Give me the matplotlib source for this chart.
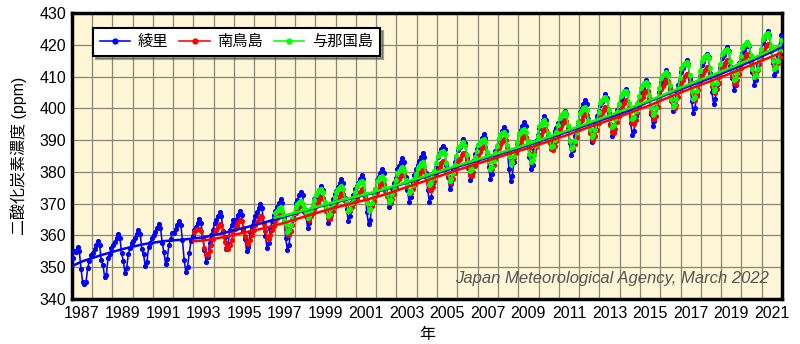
import numpy as np
import matplotlib
matplotlib.use("Agg")
import matplotlib.pyplot as plt

plt.rcParams['font.family'] = ['Liberation Sans', 'Noto Sans CJK JP', 'DejaVu Sans']

# 月平均値 (ppm) 各行 = 1年分 (1月..12月)
ryori_start = 1987
ryori = [
    [353.0, 355.1, 354.7, 356.4, 355.0, 349.5, 345.3, 344.6, 345.5, 349.8, 352.0, 353.9],
    [354.6, 355.7, 357.0, 358.2, 357.0, 352.2, 350.7, 346.9, 347.5, 352.9, 354.2, 355.9],
    [356.9, 358.0, 359.3, 360.5, 359.3, 354.5, 352.0, 348.2, 349.7, 354.2, 356.0, 357.7],
    [358.1, 359.2, 360.5, 361.7, 360.5, 355.7, 354.1, 350.3, 351.8, 356.3, 357.6, 359.3],
    [360.1, 361.2, 362.5, 363.7, 362.5, 357.7, 354.9, 351.1, 352.6, 357.1, 359.0, 360.7],
    [360.9, 362.0, 363.3, 364.5, 363.3, 358.5, 352.3, 348.5, 350.0, 354.5, 358.1, 359.8],
    [361.6, 362.7, 364.0, 365.2, 364.0, 359.2, 355.5, 351.7, 353.2, 357.7, 360.1, 361.8],
    [363.8, 364.9, 366.2, 367.4, 366.2, 361.4, 359.6, 355.8, 357.3, 361.8, 363.2, 364.9],
    [364.1, 365.2, 366.5, 367.7, 366.5, 361.7, 358.8, 355.0, 356.5, 361.0, 363.0, 364.7],
    [366.2, 367.3, 368.6, 369.8, 368.6, 363.8, 359.9, 356.1, 357.6, 362.1, 364.6, 366.3],
    [367.8, 368.9, 370.2, 371.4, 370.2, 365.4, 359.3, 355.5, 357.0, 361.5, 365.1, 366.8],
    [370.2, 371.3, 372.6, 373.8, 372.6, 367.8, 366.2, 362.4, 363.9, 368.4, 369.7, 371.4],
    [372.0, 373.1, 374.4, 375.6, 374.4, 369.6, 367.8, 364.0, 365.5, 370.0, 371.4, 373.1],
    [374.1, 375.2, 376.5, 377.7, 376.5, 371.7, 368.4, 364.6, 366.1, 370.6, 372.8, 374.5],
    [375.5, 376.6, 377.9, 379.1, 377.9, 373.1, 367.3, 363.5, 365.0, 369.5, 372.9, 374.6],
    [377.3, 378.4, 379.7, 380.9, 379.7, 374.9, 372.6, 368.8, 370.3, 374.8, 376.5, 378.2],
    [380.8, 381.9, 383.2, 384.4, 383.2, 378.4, 374.3, 370.5, 372.0, 376.5, 379.1, 380.8],
    [382.2, 383.3, 384.6, 385.8, 384.6, 379.8, 374.3, 370.5, 372.0, 376.5, 379.8, 381.5],
    [384.7, 385.8, 387.1, 388.3, 387.1, 382.3, 378.4, 374.6, 376.1, 380.6, 383.1, 384.8],
    [386.8, 387.9, 389.2, 390.4, 389.2, 384.4, 381.2, 377.4, 378.9, 383.4, 385.5, 387.2],
    [388.4, 389.5, 390.8, 392.0, 390.8, 386.0, 381.6, 377.8, 379.3, 383.8, 386.5, 388.2],
    [390.5, 391.6, 392.9, 394.1, 392.9, 388.1, 381.0, 377.2, 378.7, 383.2, 387.3, 389.0],
    [392.0, 393.1, 394.4, 395.6, 394.4, 389.6, 384.6, 380.8, 382.3, 386.8, 389.8, 391.5],
    [393.9, 395.0, 396.3, 397.5, 396.3, 391.5, 391.0, 387.5, 389.0, 393.0, 393.8, 395.3],
    [395.7, 396.8, 398.1, 399.3, 398.1, 393.3, 389.1, 385.3, 386.8, 391.3, 393.9, 395.6],
    [398.9, 400.0, 401.3, 402.5, 401.3, 396.5, 393.3, 389.5, 391.0, 395.5, 397.6, 399.3],
    [401.0, 402.1, 403.4, 404.6, 403.4, 398.6, 395.2, 391.4, 392.9, 397.4, 399.6, 401.3],
    [402.6, 403.7, 405.0, 406.2, 405.0, 400.2, 395.3, 391.5, 393.0, 397.5, 400.5, 402.2],
    [405.2, 406.3, 407.6, 408.8, 407.6, 402.8, 398.3, 394.5, 396.0, 400.5, 403.3, 405.0],
    [408.4, 409.5, 410.8, 412.0, 410.8, 406.0, 403.1, 399.3, 400.8, 405.3, 407.3, 409.0],
    [411.5, 412.6, 413.9, 415.1, 413.9, 409.1, 402.3, 398.5, 400.0, 404.5, 408.4, 410.1],
    [413.6, 414.7, 416.0, 417.2, 416.0, 411.2, 405.2, 401.4, 402.9, 407.4, 410.9, 412.6],
    [415.8, 416.9, 418.2, 419.4, 418.2, 413.4, 409.7, 405.9, 407.4, 411.9, 414.3, 416.0],
    [417.3, 418.4, 419.7, 420.9, 419.7, 414.9, 411.3, 407.5, 409.0, 413.5, 415.8, 417.5],
    [420.7, 421.8, 423.1, 424.3, 423.1, 418.3, 414.2, 410.4, 411.9, 416.4, 420.0, 423.0],
]

minami_start = 1993
minami = [
    [361.2, 361.6, 361.9, 362.0, 361.5, 359.5, 356.1, 354.1, 353.8, 355.0, 356.9, 358.8],
    [360.7, 361.6, 362.7, 363.5, 363.2, 361.0, 358.0, 356.0, 355.7, 356.9, 358.6, 360.4],
    [362.1, 363.0, 364.1, 364.9, 364.6, 362.4, 359.7, 357.7, 357.4, 358.6, 360.2, 361.7],
    [363.3, 364.2, 365.3, 366.1, 365.8, 363.6, 361.3, 359.3, 359.0, 360.2, 361.6, 363.1],
    [364.5, 365.4, 366.5, 367.3, 367.0, 364.8, 362.5, 360.5, 360.2, 361.4, 363.3, 365.1],
    [367.0, 367.9, 369.0, 369.8, 369.5, 367.3, 366.5, 365.3, 364.8, 366.2, 367.2, 368.4],
    [369.2, 370.1, 371.2, 372.0, 371.7, 369.5, 367.6, 365.6, 365.3, 366.5, 367.8, 369.2],
    [370.5, 371.4, 372.5, 373.3, 373.0, 370.8, 369.9, 367.9, 367.6, 368.8, 369.8, 370.8],
    [371.8, 372.7, 373.8, 374.6, 374.3, 372.1, 370.5, 368.5, 368.2, 369.4, 370.9, 372.3],
    [373.8, 374.7, 375.8, 376.6, 376.3, 374.1, 372.5, 370.5, 370.2, 371.4, 373.2, 375.0],
    [376.8, 377.7, 378.8, 379.6, 379.3, 377.1, 375.8, 373.8, 373.5, 374.7, 375.8, 377.0],
    [378.1, 379.0, 380.1, 380.9, 380.6, 378.4, 376.5, 374.5, 374.2, 375.4, 377.2, 378.9],
    [380.7, 381.6, 382.7, 383.5, 383.2, 381.0, 378.8, 376.8, 376.5, 377.7, 379.6, 381.4],
    [383.3, 384.2, 385.3, 386.1, 385.8, 383.6, 381.1, 379.1, 378.8, 380.0, 381.8, 383.6],
    [385.4, 386.3, 387.4, 388.2, 387.9, 385.7, 383.3, 381.3, 381.0, 382.2, 384.0, 385.7],
    [387.5, 388.4, 389.5, 390.3, 390.0, 387.8, 385.5, 383.5, 383.2, 384.4, 385.8, 387.2],
    [388.6, 389.5, 390.6, 391.4, 391.1, 388.9, 387.5, 385.5, 385.2, 386.4, 387.9, 389.3],
    [390.8, 391.7, 392.8, 393.6, 393.3, 391.1, 389.1, 387.1, 386.8, 388.0, 389.8, 391.6],
    [393.4, 394.3, 395.4, 396.2, 395.9, 393.7, 389.8, 387.8, 387.5, 388.7, 391.0, 393.2],
    [395.5, 396.4, 397.5, 398.3, 398.0, 395.8, 392.3, 390.3, 390.0, 391.2, 393.3, 395.5],
    [397.6, 398.5, 399.6, 400.4, 400.1, 397.9, 394.6, 392.6, 392.3, 393.5, 395.6, 397.6],
    [399.7, 400.6, 401.7, 402.5, 402.2, 400.0, 397.3, 395.3, 395.0, 396.2, 398.4, 400.6],
    [402.8, 403.7, 404.8, 405.6, 405.3, 403.1, 398.8, 396.8, 396.5, 397.7, 400.5, 403.3],
    [406.0, 406.9, 408.0, 408.8, 408.5, 406.3, 402.3, 400.3, 400.0, 401.2, 403.5, 405.8],
    [408.1, 409.0, 410.1, 410.9, 410.6, 408.4, 404.9, 402.9, 402.6, 403.8, 405.9, 408.1],
    [410.2, 411.1, 412.2, 413.0, 412.7, 410.5, 407.1, 405.1, 404.8, 406.0, 408.1, 410.2],
    [412.3, 413.2, 414.3, 415.1, 414.8, 412.6, 410.1, 408.1, 407.8, 409.0, 410.8, 412.6],
    [414.4, 415.3, 416.4, 417.2, 416.9, 414.7, 413.1, 411.1, 410.8, 412.0, 413.9, 415.7],
    [417.6, 418.5, 419.6, 420.4, 420.1, 417.9, 415.3, 413.3, 413.0, 414.2, 416.3, 418.3],
]

yonaguni_start = 1997
yonaguni = [
    [367.2, 367.8, 368.5, 368.8, 367.8, 364.8, 363.5, 361.0, 361.6, 363.4, 365.3, 367.2],
    [369.1, 369.9, 370.6, 370.9, 369.9, 368.6, 367.4, 365.6, 366.2, 368.0, 369.6, 371.2],
    [372.8, 373.6, 374.3, 374.6, 373.6, 370.6, 368.6, 366.1, 366.7, 368.5, 370.3, 372.0],
    [373.8, 374.6, 375.3, 375.6, 374.6, 371.6, 370.2, 367.7, 368.3, 370.1, 371.9, 373.6],
    [375.4, 376.2, 376.9, 377.2, 376.2, 373.2, 370.2, 367.7, 368.3, 370.1, 372.4, 374.7],
    [377.0, 377.8, 378.5, 378.8, 377.8, 374.8, 373.1, 370.6, 371.2, 373.0, 375.2, 377.4],
    [379.6, 380.4, 381.1, 381.4, 380.4, 377.4, 376.0, 373.5, 374.1, 375.9, 377.7, 379.4],
    [381.2, 382.0, 382.7, 383.0, 382.0, 379.0, 378.3, 375.8, 376.4, 378.2, 380.4, 382.7],
    [384.9, 385.7, 386.4, 386.7, 385.7, 382.7, 379.7, 377.2, 377.8, 379.6, 382.2, 384.9],
    [387.5, 388.3, 389.0, 389.3, 388.3, 385.3, 382.9, 380.4, 381.0, 382.8, 384.7, 386.7],
    [388.6, 389.4, 390.1, 390.4, 389.4, 386.4, 383.5, 381.0, 381.6, 383.4, 385.8, 388.3],
    [390.7, 391.5, 392.2, 392.5, 391.5, 388.5, 385.0, 382.5, 383.1, 384.9, 387.2, 389.5],
    [391.8, 392.6, 393.3, 393.6, 392.6, 389.6, 385.5, 383.0, 383.6, 385.4, 388.4, 391.4],
    [394.4, 395.2, 395.9, 396.2, 395.2, 392.2, 390.2, 387.7, 388.3, 390.1, 392.4, 394.7],
    [397.0, 397.8, 398.5, 398.8, 397.8, 394.8, 389.7, 387.2, 387.8, 389.6, 392.6, 395.6],
    [398.6, 399.4, 400.1, 400.4, 399.4, 396.4, 393.4, 390.9, 391.5, 393.3, 396.1, 398.9],
    [401.7, 402.5, 403.2, 403.5, 402.5, 399.5, 396.6, 394.1, 394.7, 396.5, 398.9, 401.4],
    [403.8, 404.6, 405.3, 405.6, 404.6, 401.6, 399.2, 396.7, 397.3, 399.1, 401.6, 404.0],
    [406.5, 407.3, 408.0, 408.3, 407.3, 404.3, 400.3, 397.8, 398.4, 400.2, 403.3, 406.5],
    [409.6, 410.4, 411.1, 411.4, 410.4, 407.4, 402.9, 400.4, 401.0, 402.8, 406.1, 409.5],
    [412.8, 413.6, 414.3, 414.6, 413.6, 410.6, 405.5, 403.0, 403.6, 405.4, 408.6, 411.7],
    [414.9, 415.7, 416.4, 416.7, 415.7, 412.7, 408.1, 405.6, 406.2, 408.0, 411.0, 414.0],
    [417.0, 417.8, 418.5, 418.8, 417.8, 414.8, 411.3, 408.8, 409.4, 411.2, 413.8, 416.5],
    [419.1, 419.9, 420.6, 420.9, 419.9, 416.9, 412.4, 409.9, 410.5, 412.3, 415.5, 418.6],
    [421.8, 422.6, 423.3, 423.6, 422.6, 419.6, 415.0, 412.5, 413.1, 414.9, 418.2, 421.5],
]

# 長期トレンド (年央の値 + 両端)
ryori_trend_x = [1987.0] + [y + 0.5 for y in range(1987, 2022)] + [2022.0]
ryori_trend = [350.3, 351.8, 353.9, 355.7, 357.2, 358.2, 358.7, 359.4, 360.8, 362.4,
               364.1, 365.9, 367.8, 369.6, 371.2, 372.8, 374.6, 376.6, 378.6, 380.6,
               382.6, 384.5, 386.4, 388.4, 390.6, 392.8, 395.0, 397.2, 399.4, 402.3,
               404.8, 407.2, 409.6, 412.2, 414.9, 417.8, 419.3]
minami_trend_x = [1993.0] + [y + 0.5 for y in range(1993, 2022)] + [2022.0]
minami_trend = [358.2, 358.4, 359.5, 360.9, 362.3, 364.0, 366.0, 367.9, 369.6, 371.2,
                373.0, 375.2, 377.3, 379.5, 381.6, 383.6, 385.6, 387.5, 389.6, 391.8,
                394.1, 396.3, 398.6, 401.0, 403.7, 406.2, 408.6, 411.1, 413.7, 416.3,
                417.6]
yonaguni_trend_x = [1997.0] + [y + 0.5 for y in range(1997, 2022)] + [2022.0]
yonaguni_trend = [365.6, 366.3, 368.0, 369.8, 371.4, 373.0, 374.8, 376.8, 378.9, 381.0,
                  383.0, 384.9, 386.8, 388.8, 391.0, 393.2, 395.5, 397.8, 400.1, 402.6,
                  405.2, 407.8, 410.3, 412.9, 415.6, 418.5, 420.2]

stations = [
    ("綾里", ryori_start, ryori, ryori_trend_x, ryori_trend, "#0000ff"),
    ("南鳥島", minami_start, minami, minami_trend_x, minami_trend, "#ff0000"),
    ("与那国島", yonaguni_start, yonaguni, yonaguni_trend_x, yonaguni_trend, "#00ff00"),
]

fig = plt.figure(figsize=(8.0, 3.44), dpi=100)
ax = fig.add_axes([0.0896, 0.1308, 0.888, 0.8314])
ax.set_facecolor("#fef6d6")

for name, start, rows, tx, ty, col in stations:
    vals = np.array(rows).ravel()
    x = start + (np.arange(len(vals)) + 0.5) / 12.0
    ax.plot(x, vals, color=col, lw=1.15, marker="o", ms=2.7, label=name, zorder=3)
    ax.plot(tx, ty, color=col, lw=1.8, zorder=4)

ax.set_xlim(1987, 2022)
ax.set_ylim(340, 430)
ax.set_xticks(range(1987, 2023))
ax.set_xticklabels([])
ax.set_xticks([y + 0.5 for y in range(1987, 2022, 2)], minor=True)
ax.set_xticklabels([str(y) for y in range(1987, 2022, 2)], minor=True, fontsize=11.5)
ax.set_yticks(range(340, 431, 10))
ax.tick_params(axis="y", labelsize=11.5, length=0, pad=4)
ax.tick_params(axis="x", which="both", length=0, pad=5)
ax.grid(True, which="major", color="#8c8572", lw=0.9)
ax.set_axisbelow(True)
for s in ax.spines.values():
    s.set_linewidth(2.5)
    s.set_color("black")

ax.set_ylabel("二酸化炭素濃度 (ppm)", fontsize=11.5, labelpad=9)
ax.set_xlabel("年", fontsize=11.5, labelpad=4)

ax.text(0.982, 0.073, "Japan Meteorological Agency, March 2022", transform=ax.transAxes,
        ha="right", va="center", fontsize=12, style="italic", color="#555555")

leg = ax.legend(loc="upper left", bbox_to_anchor=(0.030, 0.948), ncol=3, fontsize=11,
                frameon=True, fancybox=False, shadow=True, edgecolor="black",
                framealpha=1, borderaxespad=0, handlelength=2.0, columnspacing=0.7,
                handletextpad=0.5, borderpad=0.45, markerscale=1.3)
leg.get_frame().set_linewidth(1.5)

fig.savefig("out.png", dpi=100)
